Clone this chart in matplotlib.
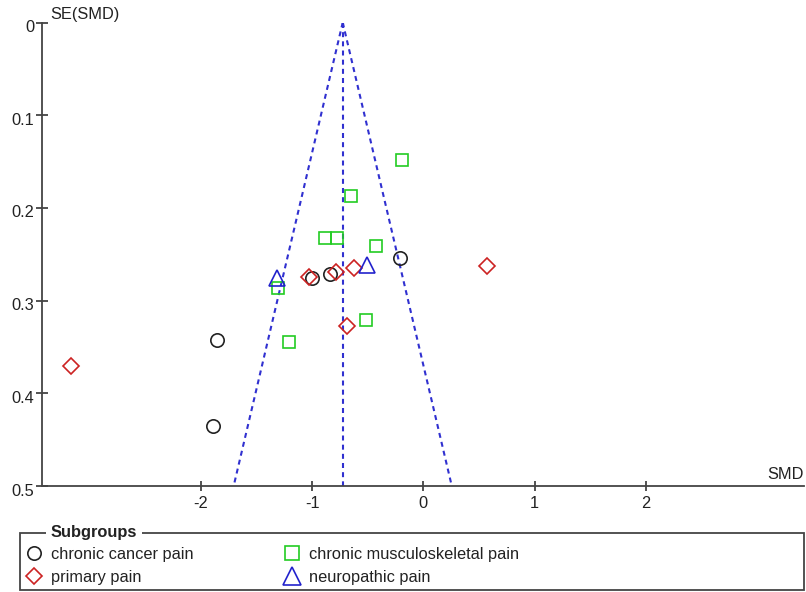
import matplotlib
matplotlib.use("Agg")
import matplotlib.pyplot as plt
import matplotlib.transforms as mtransforms
from matplotlib.lines import Line2D
from matplotlib.patches import Rectangle
import numpy as np

plt.rcParams["font.family"] = ["Liberation Sans", "DejaVu Sans"]

# pooled estimate (apex of the funnel)
POOLED_SMD = -0.725

# subgroup studies: SMD and SE(SMD)
cancer_smd = [-0.212, -0.997, -0.836, -1.851, -1.887]
cancer_se = [0.254, 0.276, 0.271, 0.342, 0.435]

primary_smd = [-1.030, -0.782, -0.623, -0.683, 0.572, -3.168]
primary_se = [0.275, 0.269, 0.265, 0.327, 0.263, 0.371]

musculo_smd = [-0.189, -0.647, -0.883, -0.773, -0.425, -1.305, -0.512, -1.207]
musculo_se = [0.148, 0.187, 0.232, 0.232, 0.241, 0.286, 0.321, 0.345]

neuro_smd = [-1.317, -0.509]
neuro_se = [0.276, 0.262]

x_ticks = [-2, -1, 0, 1, 2]
y_ticks = [0, 0.1, 0.2, 0.3, 0.4, 0.5]
y_tick_labels = ["0", "0.1", "0.2", "0.3", "0.4", "0.5"]

TEXT = "#222222"
AXIS = "#444444"
BLACK = "#222222"
RED = "#cc2222"
GREEN = "#22cc22"
BLUE = "#2222cc"
FUNNEL = "#3030d0"
FS = 11.8

W, H = 806, 592
fig = plt.figure(figsize=(W / 100, H / 100), dpi=100)
ax = fig.add_axes([41.7 / W, 1 - 486 / H, (804 - 41.7) / W, (486 - 22.5) / H])

# funnel: pooled line and 95% limits
se_line = np.array([0.0, 0.5])
ax.plot([POOLED_SMD, POOLED_SMD], se_line, color=FUNNEL, lw=1.5,
        dashes=(2.4, 2.0), zorder=1)
ax.plot(POOLED_SMD - 1.96 * se_line, se_line, color=FUNNEL, lw=1.5,
        dashes=(2.4, 2.0), zorder=1)
ax.plot(POOLED_SMD + 1.96 * se_line, se_line, color=FUNNEL, lw=1.5,
        dashes=(2.4, 2.0), zorder=1)

mk = dict(ls="none", mfc="none", mew=1.2, zorder=3, clip_on=False)
ax.plot(cancer_smd, cancer_se, marker="o", ms=9.6, mec=BLACK, **mk)
ax.plot(primary_smd, primary_se, marker="D", ms=8.6, mec=RED, **mk)
ax.plot(musculo_smd, musculo_se, marker="s", ms=8.6, mec=GREEN, **mk)
ax.plot(neuro_smd, neuro_se, marker="^", ms=11.5, mec=BLUE, **mk)

ax.set_xlim(-3.43, 3.42)
ax.set_ylim(0.5, 0)

for side in ("top", "right"):
    ax.spines[side].set_visible(False)
for side in ("left", "bottom"):
    ax.spines[side].set_color(AXIS)
    ax.spines[side].set_linewidth(1.3)

ax.set_xticks(x_ticks)
ax.set_xticklabels([str(t) for t in x_ticks])
ax.set_yticks(y_ticks)
ax.set_yticklabels(y_tick_labels)
ax.tick_params(axis="x", direction="inout", length=6.5, width=1.3,
               color=AXIS, labelsize=FS, labelcolor=TEXT, pad=4.0)
ax.tick_params(axis="y", direction="inout", length=8.5, width=1.3,
               color=AXIS, labelsize=FS, labelcolor=TEXT, pad=1)
shift = mtransforms.ScaledTranslation(0, -3.5 / 100, fig.dpi_scale_trans)
for lab in ax.get_yticklabels():
    lab.set_transform(lab.get_transform() + shift)

fig.text(50 / W, 1 - 15 / H, "SE(SMD)", ha="left", va="center",
         fontsize=FS, color=TEXT)
ax.annotate("SMD", xy=(1, 0), xycoords="axes fraction", xytext=(0, 3),
            textcoords="offset points", ha="right", va="bottom",
            fontsize=FS, color=TEXT)

# legend box in group-box style
fig.patches.append(Rectangle((20 / W, 1 - 590 / H), 784 / W, (590 - 532.7) / H,
                             transform=fig.transFigure, fill=False,
                             edgecolor=AXIS, lw=1.3))
fig.text(50.7 / W, 1 - 532.7 / H, "Subgroups", ha="left", va="center",
         fontsize=FS, fontweight="bold", color=TEXT,
         bbox=dict(boxstyle="square,pad=0.3", fc="white", ec="none"))

handles = [
    Line2D([], [], ls="none", marker="o", ms=9.6, mfc="none", mec=BLACK, mew=1.2),
    Line2D([], [], ls="none", marker="D", ms=8.6, mfc="none", mec=RED, mew=1.2),
    Line2D([], [], ls="none", marker="s", ms=9.5, mfc="none", mec=GREEN, mew=1.2),
    Line2D([], [], ls="none", marker="^", ms=13, mfc="none", mec=BLUE, mew=1.2),
]
labels = ["chronic cancer pain", "primary pain",
          "chronic musculoskeletal pain", "neuropathic pain"]
leg = fig.legend(handles, labels, ncol=2, loc="upper left",
                 bbox_to_anchor=(27 / W, 1 - 547 / H), frameon=False,
                 fontsize=FS, handlelength=0.8, handletextpad=0.65,
                 columnspacing=5.6, labelspacing=0.5, borderpad=0,
                 borderaxespad=0)
for t in leg.get_texts():
    t.set_color(TEXT)

fig.savefig("out.png", dpi=100, facecolor="white")
